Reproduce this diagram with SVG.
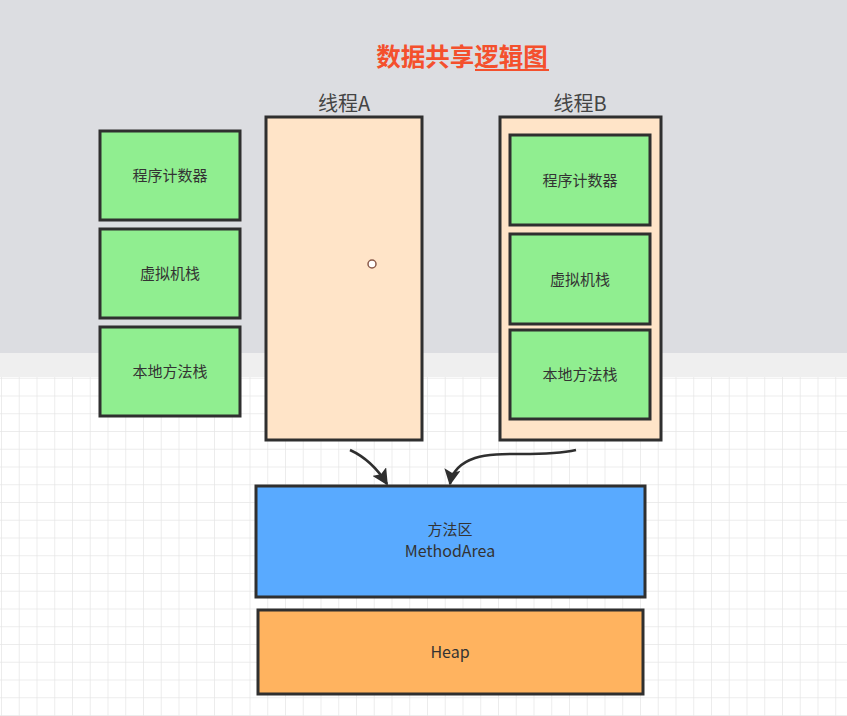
<svg xmlns="http://www.w3.org/2000/svg" width="847" height="716" viewBox="0 0 847 716">
  <style>
    .box { stroke: #2f2f2f; stroke-width: 3; }
    .green { fill: #90ee90; }
    .thread { fill: #ffe4c8; }
    .lbl { font-family: "Noto Sans CJK SC", "Noto Sans", sans-serif; font-size: 15px; fill: #333; text-anchor: middle; }
    .tname { font-family: "Noto Sans CJK SC", "Noto Sans", sans-serif; font-size: 20px; fill: #444; text-anchor: middle; }
    .conn { fill: none; stroke: #2f2f2f; stroke-width: 2.5; }
  </style>
  <defs>
    <pattern id="grid" x="1" y="5" width="17.75" height="17.75" patternUnits="userSpaceOnUse">
      <path d="M0 0H17.75M0 0V17.75" fill="none" stroke="#e6e6e6" stroke-width="1.5"/>
    </pattern>
    <marker id="arrow" viewBox="0 0 10 10" refX="9" refY="5" markerWidth="6.5" markerHeight="6.5" orient="auto" markerUnits="strokeWidth">
      <path d="M0 0L10 5L0 10L2 5Z" fill="#2f2f2f"/>
    </marker>
  </defs>

  <!-- canvas background -->
  <rect width="847" height="716" fill="#ffffff"/>
  <rect width="847" height="716" fill="url(#grid)"/>
  <rect width="847" height="353" fill="#dcdde1"/>
  <rect y="353" width="847" height="24" fill="#efefef"/>

  <!-- title -->
  <g id="title">
    <text x="462" y="66" font-family="Noto Sans CJK SC, sans-serif" font-size="24.5" font-weight="bold" fill="#f4502d" text-anchor="middle">数据共享逻辑图</text>
    <line x1="475" y1="70" x2="549" y2="70" stroke="#f4502d" stroke-width="2"/>
  </g>

  <!-- shared per-thread areas (left column) -->
  <g id="pc-left">
    <rect class="box green" x="100" y="131" width="140" height="89"/>
    <text class="lbl" x="170" y="181">程序计数器</text>
  </g>
  <g id="vmstack-left">
    <rect class="box green" x="100" y="229" width="140" height="89"/>
    <text class="lbl" x="170" y="279">虚拟机栈</text>
  </g>
  <g id="native-left">
    <rect class="box green" x="100" y="327" width="140" height="89"/>
    <text class="lbl" x="170" y="377">本地方法栈</text>
  </g>

  <!-- thread A -->
  <g id="threadA">
    <text class="tname" x="344" y="111">线程A</text>
    <rect class="box thread" x="266" y="117" width="156" height="323"/>
    <circle cx="372" cy="264" r="4" fill="#ffffff" stroke="#8a5a4a" stroke-width="1.5"/>
  </g>

  <!-- thread B -->
  <g id="threadB">
    <text class="tname" x="580" y="111">线程B</text>
    <rect class="box thread" x="500" y="117" width="161" height="323"/>
  </g>
  <g id="pc-B">
    <rect class="box green" x="510" y="135" width="140" height="90"/>
    <text class="lbl" x="580" y="186">程序计数器</text>
  </g>
  <g id="vmstack-B">
    <rect class="box green" x="510" y="234" width="140" height="90"/>
    <text class="lbl" x="580" y="285">虚拟机栈</text>
  </g>
  <g id="native-B">
    <rect class="box green" x="510" y="330" width="140" height="89"/>
    <text class="lbl" x="580" y="380">本地方法栈</text>
  </g>

  <!-- method area -->
  <g id="method-area">
    <rect class="box" x="256" y="486" width="389" height="111" fill="#59aaff"/>
    <text class="lbl" x="450" y="535">方法区</text>
    <text class="lbl" x="450" y="557" style="font-size:16px">MethodArea</text>
  </g>

  <!-- heap -->
  <g id="heap">
    <rect class="box" x="258" y="610" width="385" height="84" fill="#ffb35f"/>
    <text class="lbl" x="450" y="658" style="font-size:16px">Heap</text>
  </g>

  <!-- connectors -->
  <g id="connectors">
    <path class="conn" d="M350 450 Q372 460 387 484" marker-end="url(#arrow)"/>
    <path class="conn" d="M576 450 C540 458 500 450 475 458 C460 463 452 472 450 484" marker-end="url(#arrow)"/>
  </g>
</svg>
